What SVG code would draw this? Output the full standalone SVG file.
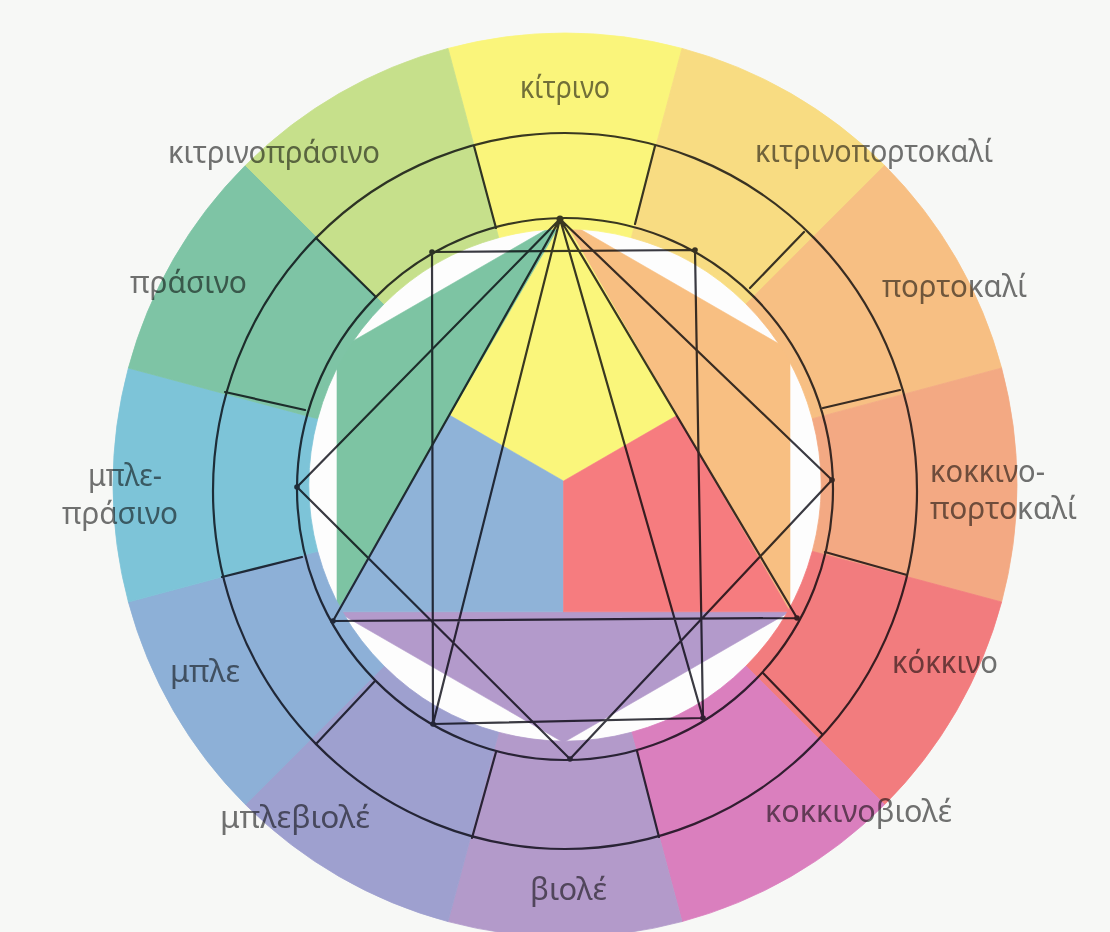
<svg xmlns="http://www.w3.org/2000/svg" width="1110" height="932" viewBox="0 0 1110 932">
<style>
.lbl{font-family:"Noto Sans","DejaVu Sans",sans-serif;font-size:30px;fill:#737373;mix-blend-mode:multiply;lengthAdjust:spacingAndGlyphs}
.seg{stroke-width:0.8}
.ln{fill:none;stroke:#3a3a42;stroke-width:2.2;stroke-linejoin:round;stroke-linecap:round}
.dot{fill:#3a3a42}
</style>
<rect width="1110" height="932" fill="#f7f8f6"/>
<circle cx="565" cy="485" r="258" fill="#fdfdfd"/>
<g id="star">
<polygon points="563.5,219.5 337,350.25 337,611.75" fill="#7dc4a3" stroke="#7dc4a3" stroke-width="0.6"/>
<polygon points="563.5,219.5 790,350.25 790,611.75" fill="#f8bf82" stroke="#f8bf82" stroke-width="0.6"/>
<polygon points="337,611.75 790,611.75 563.5,742.5" fill="#b39acb" stroke="#b39acb" stroke-width="0.6"/>
<polygon points="563.5,219.5 450.25,415.6 563.5,481 676.75,415.6" fill="#faf67b" stroke="#faf67b" stroke-width="0.6"/>
<polygon points="450.25,415.6 337,611.75 563.5,611.75 563.5,481" fill="#8fb3d8" stroke="#8fb3d8" stroke-width="0.6"/>
<polygon points="676.75,415.6 563.5,481 563.5,611.75 790,611.75" fill="#f67c7f" stroke="#f67c7f" stroke-width="0.6"/>
</g>
<g id="kitrino">
<path class="seg" d="M448,48.4 A452,452 0 0 1 682,48.4 L631.3,237.7 A256,256 0 0 0 498.7,237.7 Z" fill="#faf57b" stroke="#faf57b"/>
<text class="lbl" x="520" y="98" textLength="90" lengthAdjust="spacingAndGlyphs">κίτρινο</text>
</g>
<g id="kitrinoportokali">
<path class="seg" d="M682,48.4 A452,452 0 0 1 884.6,165.4 L746,304 A256,256 0 0 0 631.3,237.7 Z" fill="#f8dc82" stroke="#f8dc82"/>
<text class="lbl" x="755" y="162" textLength="238" lengthAdjust="spacingAndGlyphs">κιτρινοπορτοκαλί</text>
</g>
<g id="portokali">
<path class="seg" d="M884.6,165.4 A452,452 0 0 1 1001.6,368 L812.3,418.7 A256,256 0 0 0 746,304 Z" fill="#f7bf83" stroke="#f7bf83"/>
<text class="lbl" x="882" y="297" textLength="145" lengthAdjust="spacingAndGlyphs">πορτοκαλί</text>
</g>
<g id="kokkinoportokali">
<path class="seg" d="M1001.6,368 A452,452 0 0 1 1001.6,602 L812.3,551.3 A256,256 0 0 0 812.3,418.7 Z" fill="#f3a983" stroke="#f3a983"/>
<text class="lbl" x="930" y="482" textLength="115" lengthAdjust="spacingAndGlyphs">κοκκινο-</text>
<text class="lbl" x="930" y="519" textLength="147" lengthAdjust="spacingAndGlyphs">πορτοκαλί</text>
</g>
<g id="kokkino">
<path class="seg" d="M1001.6,602 A452,452 0 0 1 884.6,804.6 L746,666 A256,256 0 0 0 812.3,551.3 Z" fill="#f27c7e" stroke="#f27c7e"/>
<text class="lbl" x="892" y="673" textLength="106" lengthAdjust="spacingAndGlyphs">κόκκινο</text>
</g>
<g id="kokkinobiole">
<path class="seg" d="M884.6,804.6 A452,452 0 0 1 682,921.6 L631.3,732.3 A256,256 0 0 0 746,666 Z" fill="#da7fbe" stroke="#da7fbe"/>
<text class="lbl" x="765" y="822" textLength="187" lengthAdjust="spacingAndGlyphs">κοκκινοβιολέ</text>
</g>
<g id="biole">
<path class="seg" d="M682,921.6 A452,452 0 0 1 448,921.6 L498.7,732.3 A256,256 0 0 0 631.3,732.3 Z" fill="#b39aca" stroke="#b39aca"/>
<text class="lbl" x="530" y="900" textLength="77" lengthAdjust="spacingAndGlyphs">βιολέ</text>
</g>
<g id="mplebiole">
<path class="seg" d="M448,921.6 A452,452 0 0 1 245.4,804.6 L384,666 A256,256 0 0 0 498.7,732.3 Z" fill="#9ea0cf" stroke="#9ea0cf"/>
<text class="lbl" x="220" y="828" textLength="150" lengthAdjust="spacingAndGlyphs">μπλεβιολέ</text>
</g>
<g id="mple">
<path class="seg" d="M245.4,804.6 A452,452 0 0 1 128.4,602 L317.7,551.3 A256,256 0 0 0 384,666 Z" fill="#8db0d7" stroke="#8db0d7"/>
<text class="lbl" x="170" y="682" textLength="70" lengthAdjust="spacingAndGlyphs">μπλε</text>
</g>
<g id="mpleprasino">
<path class="seg" d="M128.4,602 A452,452 0 0 1 128.4,368 L317.7,418.7 A256,256 0 0 0 317.7,551.3 Z" fill="#7dc4d8" stroke="#7dc4d8"/>
<text class="lbl" x="88" y="486" textLength="74" lengthAdjust="spacingAndGlyphs">μπλε-</text>
<text class="lbl" x="62" y="524" textLength="116" lengthAdjust="spacingAndGlyphs">πράσινο</text>
</g>
<g id="prasino">
<path class="seg" d="M128.4,368 A452,452 0 0 1 245.4,165.4 L384,304 A256,256 0 0 0 317.7,418.7 Z" fill="#7ec4a5" stroke="#7ec4a5"/>
<text class="lbl" x="130" y="293" textLength="117" lengthAdjust="spacingAndGlyphs">πράσινο</text>
</g>
<g id="kitrinoprasino">
<path class="seg" d="M245.4,165.4 A452,452 0 0 1 448,48.4 L498.7,237.7 A256,256 0 0 0 384,304 Z" fill="#c6e08b" stroke="#c6e08b"/>
<text class="lbl" x="168" y="163" textLength="212" lengthAdjust="spacingAndGlyphs">κιτρινοπράσινο</text>
</g>
<g id="connectors" style="mix-blend-mode:multiply">
<ellipse class="ln" cx="565" cy="489" rx="268" ry="271"/>
<ellipse class="ln" cx="565" cy="491" rx="352" ry="358"/>
<path class="ln" d="M496,228 L474,146 M635,224 L655,146 M750,288 L804,232 M823,408 L900,390 M825,552 L907,575 M763,673 L822,734 M637,751 L659,837 M496,752 L472,838 M375,681 L316,744 M302,557 L222,577 M305,410 L225,392 M376,297 L316,238"/>
<path class="ln" d="M560,219 L297,487 M560,219 L333,621 M560,219 L433,724 M560,219 L703,718 M560,219 L797,618 M560,219 L832,480 M297,487 L570,759 L832,480 M333,621 L797,618"/>
<path class="ln" d="M432,252 L695,250 L703,718 L433,724 Z"/>
<g class="dot">
<circle cx="560" cy="219" r="3.5"/><circle cx="297" cy="487" r="2.8"/><circle cx="832" cy="480" r="2.8"/><circle cx="570" cy="759" r="2.8"/>
<circle cx="333" cy="621" r="2.8"/><circle cx="797" cy="618" r="2.8"/><circle cx="432" cy="252" r="2.8"/><circle cx="695" cy="250" r="2.8"/>
<circle cx="703" cy="718" r="2.8"/><circle cx="433" cy="724" r="2.8"/>
</g>
</g>
</svg>
